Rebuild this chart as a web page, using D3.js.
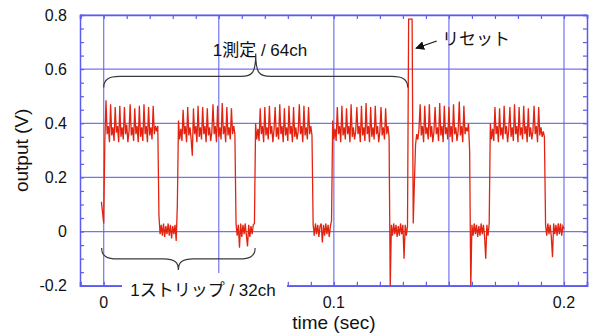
<!DOCTYPE html>
<html>
<head>
<meta charset="utf-8">
<script src="https://cdn.jsdelivr.net/npm/d3@7"></script>
<style>
  body { margin: 0; background: #fff; }
  svg text { font-family: "Liberation Sans", Arial, "Noto Sans CJK JP", sans-serif; fill: #111; }
</style>
</head>
<body>
<svg id="chart"></svg>
<script>
// scope trace, sampled every DT seconds starting at T0
const T0 = -0.001
const DT = 0.0005

const lead = [0.11, 0.07, 0.03]
const high1 = [0.34, 0.485, 0.36, 0.39, 0.33, 0.47, 0.355, 0.385, 0.335, 0.46, 0.365, 0.39, 0.33,
  0.465, 0.35, 0.385, 0.34, 0.46, 0.36, 0.395, 0.33, 0.37, 0.47, 0.355, 0.385, 0.335,
  0.455, 0.36, 0.39, 0.33, 0.465, 0.35, 0.385, 0.335, 0.47, 0.36, 0.39, 0.33,
  0.46, 0.355, 0.385, 0.34, 0.465, 0.36, 0.39, 0.37, 0.39]
const low1 = [0.06, -0.01, 0.025, -0.015, 0.03, -0.02, 0.02, -0.01, 0.03, -0.015, 0.025, -0.025, 0.02, -0.01, 0.025, -0.035, 0.1]
const high2 = [0.41, 0.34, 0.38, 0.335, 0.45, 0.36, 0.39, 0.33, 0.46, 0.355, 0.385, 0.34, 0.28,
  0.455, 0.36, 0.39, 0.33, 0.465, 0.35, 0.385, 0.34, 0.46, 0.36, 0.39, 0.33,
  0.455, 0.355, 0.385, 0.335, 0.37, 0.47, 0.36, 0.39, 0.33, 0.465, 0.35, 0.385, 0.34,
  0.475, 0.36, 0.39, 0.33, 0.46, 0.355, 0.385, 0.34, 0.455, 0.36, 0.39, 0.36]
const low2 = [0.03, -0.015, 0.025, -0.06, 0.03, -0.02, 0.025, -0.01, 0.03, -0.015, -0.055, 0.025, -0.02, 0.02, -0.01, 0.025, 0.03]
const high3 = [0.4, 0.34, 0.38, 0.335, 0.455, 0.36, 0.39, 0.33, 0.46, 0.355, 0.385, 0.34,
  0.465, 0.36, 0.39, 0.33, 0.375, 0.46, 0.35, 0.385, 0.34, 0.47, 0.36, 0.39, 0.33,
  0.455, 0.355, 0.385, 0.335, 0.465, 0.36, 0.39, 0.33, 0.46, 0.35, 0.385, 0.34, 0.37,
  0.47, 0.36, 0.39, 0.33, 0.465, 0.355, 0.385, 0.34, 0.46, 0.36, 0.39, 0.355]
const low3 = [0.025, -0.015, 0.03, -0.01, 0.025, -0.02, 0.02, 0.03, -0.04, 0.025, -0.015, 0.03, -0.01, 0.025, -0.02, 0.02, 0.04]
const high4 = [0.41, 0.34, 0.38, 0.335, 0.46, 0.36, 0.39, 0.33, 0.465, 0.355, 0.385, 0.34,
  0.455, 0.36, 0.39, 0.33, 0.47, 0.35, 0.385, 0.34, 0.37, 0.46, 0.36, 0.39, 0.33,
  0.465, 0.355, 0.385, 0.335, 0.475, 0.36, 0.39, 0.33, 0.46, 0.35, 0.385, 0.34,
  0.465, 0.36, 0.39, 0.33, 0.37, 0.46, 0.355, 0.385, 0.34, 0.455, 0.36, 0.39, 0.35]
const low4 = [-0.21, 0.025, -0.015, 0.03, -0.01, 0.025, -0.02, 0.02, -0.015, 0.03, -0.01, 0.025, -0.1, 0.025, -0.015, 0.02]
const reset = [0.785, 0.785, 0.785, 0.785, 0.03, 0.18]
const high5 = [0.32, 0.36, 0.34, 0.38, 0.47, 0.355, 0.39, 0.33, 0.465, 0.36, 0.385, 0.34,
  0.47, 0.35, 0.39, 0.33, 0.37, 0.46, 0.36, 0.385, 0.335, 0.475, 0.355, 0.39, 0.33,
  0.465, 0.36, 0.385, 0.34, 0.46, 0.35, 0.39, 0.33, 0.47, 0.36, 0.385, 0.335, 0.37,
  0.48, 0.355, 0.39, 0.33, 0.465, 0.36, 0.385, 0.37, 0.4, 0.3]
const low5 = [-0.21, 0.025, -0.015, 0.03, -0.01, 0.025, -0.02, 0.02, -0.015, 0.03, -0.01, 0.025, -0.02, -0.1, 0.025, -0.015, 0.03]
const high6 = [0.4, 0.34, 0.38, 0.335, 0.46, 0.36, 0.39, 0.33, 0.455, 0.355, 0.385, 0.34,
  0.465, 0.36, 0.39, 0.33, 0.375, 0.46, 0.35, 0.385, 0.335, 0.47, 0.36, 0.39, 0.33,
  0.46, 0.355, 0.385, 0.34, 0.465, 0.36, 0.39, 0.33, 0.455, 0.35, 0.385, 0.34, 0.37,
  0.465, 0.36, 0.39, 0.33, 0.46, 0.355, 0.385, 0.35, 0.37, 0.35]
const low6 = [0.025, -0.015, 0.03, -0.01, 0.025, -0.02, -0.095, 0.03, -0.01, 0.025, -0.015, 0.03, -0.01, 0.03, -0.015, 0.02, 0.01]

const xTicks = [0, 0.1, 0.2]
const xGrid = [0, 0.05, 0.1, 0.15, 0.2]
const yTicks = [-0.2, 0, 0.2, 0.4, 0.6, 0.8]

// annotations: [tStart, tEnd, level, tip] in data units
const braceTop = [0, 0.1321, 0.573, 0.658]
const braceBottom = [-0.0009, 0.0658, -0.101, -0.142]

const WIDTH = 590
const HEIGHT = 334
const GRID = '#5c5cf0'
const RED = '#e3230f'

const svg = d3.select('#chart').attr('width', WIDTH).attr('height', HEIGHT)

const x = d3.scaleLinear().domain([-0.0103, 0.21]).range([80, 587])
const y = d3.scaleLinear().domain([-0.2, 0.8]).range([285.7, 15])

const volts = [].concat(lead, high1, low1, high2, low2, high3, low3, high4, low4, reset, high5, low5, high6, low6)
const trace = volts.map((v, i) => [T0 + i * DT, v])

svg.append('clipPath').attr('id', 'plot-clip')
  .append('rect')
  .attr('x', x.range()[0]).attr('y', y.range()[1])
  .attr('width', x.range()[1] - x.range()[0])
  .attr('height', y.range()[0] - y.range()[1])

// grid
svg.append('g').selectAll('line')
  .data(xGrid).enter().append('line')
  .attr('x1', d => x(d)).attr('x2', d => x(d))
  .attr('y1', y.range()[1]).attr('y2', y.range()[0])
  .attr('stroke', GRID).attr('stroke-width', 1.2).attr('opacity', 0.85)

svg.append('g').selectAll('line')
  .data(yTicks).enter().append('line')
  .attr('x1', x.range()[0]).attr('x2', x.range()[1])
  .attr('y1', d => y(d)).attr('y2', d => y(d))
  .attr('stroke', GRID).attr('stroke-width', 1.2).attr('opacity', 0.85)

// trace
svg.append('path')
  .datum(trace)
  .attr('clip-path', 'url(#plot-clip)')
  .attr('fill', 'none')
  .attr('stroke', RED)
  .attr('stroke-width', 1.3)
  .attr('stroke-linejoin', 'miter')
  .attr('d', d3.line().x(d => x(d[0])).y(d => y(d[1])))

// frame with inward minor ticks
function setAxis() {
  const minorX = d3.range(-0.01, 0.2101, 0.01)
  const minorY = d3.range(-0.2, 0.8001, 0.05)
  const frame = svg.append('g').attr('color', GRID)

  frame.append('g')
    .attr('transform', `translate(0, ${y.range()[0]})`)
    .call(d3.axisTop(x).tickValues(minorX).tickSize(4).tickFormat(''))
  frame.append('g')
    .attr('transform', `translate(0, ${y.range()[1]})`)
    .call(d3.axisBottom(x).tickValues(minorX).tickSize(4).tickFormat(''))
  frame.append('g')
    .attr('transform', `translate(${x.range()[0]}, 0)`)
    .call(d3.axisRight(y).tickValues(minorY).tickSize(4).tickFormat(''))
  frame.append('g')
    .attr('transform', `translate(${x.range()[1]}, 0)`)
    .call(d3.axisLeft(y).tickValues(minorY).tickSize(4).tickFormat(''))
  frame.selectAll('path').attr('stroke-width', 1.5)
  frame.selectAll('.tick line').attr('stroke-width', 1.2)

  svg.append('g').selectAll('text')
    .data(yTicks).enter().append('text')
    .attr('x', 67).attr('y', d => y(d)).attr('dy', '0.36em')
    .attr('text-anchor', 'end').attr('font-size', 16)
    .text(d => d3.format('.1f')(d).replace('0.0', '0').replace('−', '-'))

  svg.append('g').selectAll('text')
    .data(xTicks).enter().append('text')
    .attr('x', d => x(d)).attr('y', 308)
    .attr('text-anchor', 'middle').attr('font-size', 16)
    .text(d => d === 0 ? '0' : d3.format('.1f')(d))

  svg.append('text')
    .attr('x', x(0.1)).attr('y', 329)
    .attr('text-anchor', 'middle').attr('font-size', 19)
    .text('time (sec)')

  svg.append('text')
    .attr('transform', `translate(28, ${y(0.3)}) rotate(-90)`)
    .attr('text-anchor', 'middle').attr('font-size', 19)
    .text('output (V)')
}
setAxis()

// curly brace between two x positions, level in data units, tip is the pointed end
function brace(b) {
  const [t1, t2, level, tip] = b
  const x1 = x(t1), x2 = x(t2), xm = (x1 + x2) / 2
  const yl = y(level), yt = y(tip)
  const dir = Math.sign(yt - yl)
  const ye = yl - dir * 11
  const r = 16, m = 9
  const p = `M${x1},${ye} C${x1},${yl - dir * 3} ${x1 + 5},${yl} ${x1 + r},${yl}
    L${xm - m - 6},${yl} C${xm - 3},${yl} ${xm},${yl + dir * 4} ${xm},${yt}
    C${xm},${yl + dir * 4} ${xm + 3},${yl} ${xm + m + 6},${yl}
    L${x2 - r},${yl} C${x2 - 5},${yl} ${x2},${yl - dir * 3} ${x2},${ye}`
  svg.append('path').attr('d', p)
    .attr('fill', 'none').attr('stroke', '#3a3a3a').attr('stroke-width', 1.2)
}

brace(braceTop)
brace(braceBottom)

svg.append('text')
  .attr('x', 260).attr('y', 56)
  .attr('text-anchor', 'middle').attr('font-size', 17)
  .text('1測定 / 64ch')

// label sitting on the bottom axis
svg.append('rect')
  .attr('x', 122).attr('y', 273).attr('width', 165).attr('height', 28)
  .attr('fill', '#fff')
svg.append('text')
  .attr('x', 203).attr('y', 296)
  .attr('text-anchor', 'middle').attr('font-size', 17)
  .text('1ストリップ / 32ch')

// reset arrow
svg.append('defs').append('marker')
  .attr('id', 'head').attr('viewBox', '0 0 10 10')
  .attr('refX', 9).attr('refY', 5)
  .attr('markerWidth', 9).attr('markerHeight', 9)
  .attr('markerUnits', 'userSpaceOnUse')
  .attr('orient', 'auto')
  .append('path').attr('d', 'M0,0 L10,5 L0,10 Z').attr('fill', '#111')

svg.append('line')
  .attr('x1', x(0.1447)).attr('y1', y(0.704))
  .attr('x2', x(0.1357)).attr('y2', y(0.677))
  .attr('stroke', '#111').attr('stroke-width', 1.2)
  .attr('marker-end', 'url(#head)')

svg.append('text')
  .attr('x', 442).attr('y', 45)
  .attr('font-size', 17)
  .text('リセット')
</script>
</body>
</html>
